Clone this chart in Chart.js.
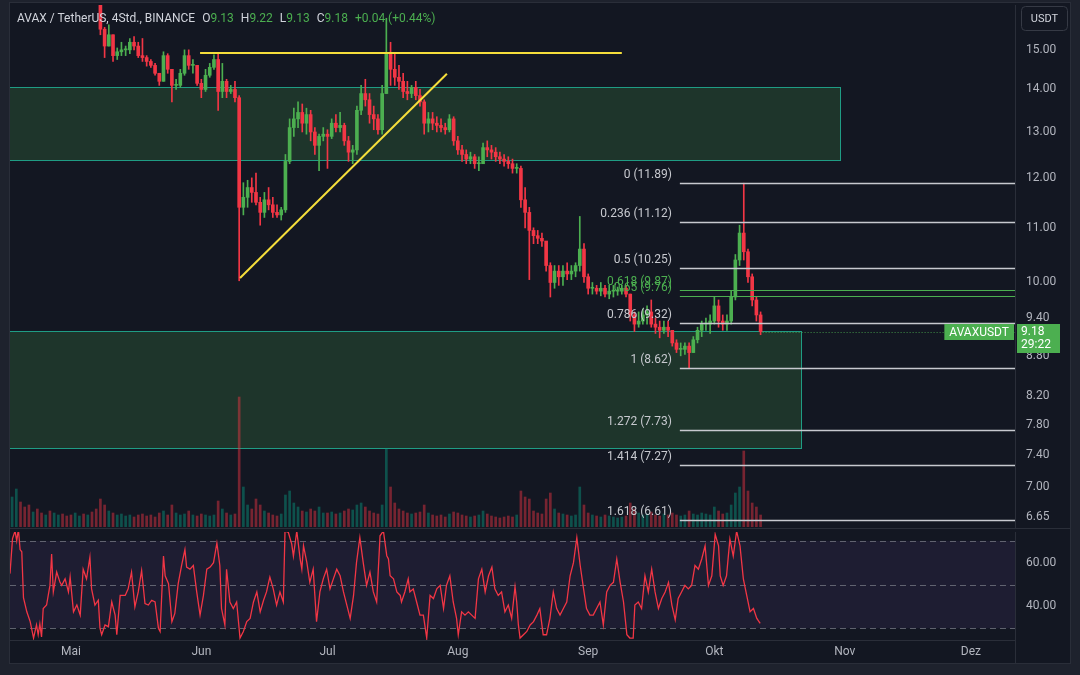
<!DOCTYPE html>
<html>
<head>
<meta charset="utf-8">
<script src="https://cdn.jsdelivr.net/npm/chart.js@4.4.0/dist/chart.umd.min.js"></script>
<style>
  html, body { margin: 0; padding: 0; width: 1080px; height: 675px; overflow: hidden; background: #1e222d; }
  body { font-family: Roboto, "Noto Sans", sans-serif; }
  #wrap { position: absolute; left: 10px; top: 3px; width: 1060px; height: 660px; background: #131722; box-shadow: 0 0 0 1px #2a2e39; }
  #priceBox { position: absolute; left: 0; top: 0; width: 1060px; height: 525px; }
  #rsiBox { position: absolute; left: 0; top: 525px; width: 1060px; height: 135px; }
  #sep { position: absolute; left: 0; top: 525px; width: 1060px; height: 1px; background: #2a2e39; z-index: 2; }
  #legend { position: absolute; left: 7px; top: 8px; font-size: 12px; line-height: 15px; color: #d1d4dc; z-index: 3; white-space: nowrap; }
  #legend .g { color: #4caf50; }
  #legend .sp { margin-left: 7px; }
</style>
</head>
<body>
<div id="wrap">
  <div id="priceBox"><canvas id="price"></canvas></div>
  <div id="rsiBox"><canvas id="rsi"></canvas></div>
  <div id="sep"></div>
  <div id="legend">AVAX / TetherUS, 4Std., BINANCE<span class="sp">O</span><span class="g">9.13</span><span class="sp">H</span><span class="g">9.22</span><span class="sp">L</span><span class="g">9.13</span><span class="sp">C</span><span class="g">9.18</span><span class="sp g">+0.04 (+0.44%)</span></div>
</div>
<script>
// daily candles from 2023-04-17 (day 0) to 2023-10-12 (day 178), axis runs to day 238
const monthDays = [14, 45, 75, 106, 137, 167, 198, 228];
const monthNames = ['Mai', 'Jun', 'Jul', 'Aug', 'Sep', 'Okt', 'Nov', 'Dez'];
const priceTicks = [15, 14, 13, 12, 11, 10, 9.4, 8.8, 8.2, 7.8, 7.4, 7.0, 6.65];
const rsiTicks = [60, 40];
const rsiLevels = [70, 50, 30];

const firstOpen = 19.0;
const closes = [
  19.2, 19.6, 18.3, 17.6, 17.0, 17.2, 16.9, 16.7, 16.9, 16.6,
  17.4, 17.6, 17.5, 17.3, 17.0, 17.2, 17.3, 16.9, 17.4, 16.9,
  16.5, 15.55, 15.1, 15.4, 14.85, 14.95, 15.0, 15.0, 15.2, 15.1,
  14.85, 14.8, 14.7, 14.6, 14.4, 14.2, 14.85, 14.5, 14.1, 14.1,
  14.4, 14.85, 14.6, 14.6, 14.15, 14.0, 14.35, 14.55, 14.75, 13.95,
  14.2, 13.95, 14.0, 13.8, 11.4, 11.6, 11.8, 11.7, 11.5, 11.3,
  11.55, 11.45, 11.3, 11.25, 11.35, 12.35, 13.1, 13.3, 13.45, 13.2,
  13.4, 13.0, 12.7, 12.9, 12.95, 12.9, 13.2, 13.1, 13.15, 12.8,
  12.55, 12.6, 13.5, 13.9, 13.75, 13.4, 13.3, 13.05, 13.9, 14.9,
  14.5, 14.3, 14.2, 13.95, 13.9, 14.05, 13.85, 13.7, 13.2, 13.3,
  13.2, 13.15, 13.1, 13.05, 13.3, 12.8, 12.6, 12.5, 12.4, 12.45,
  12.3, 12.3, 12.65, 12.6, 12.55, 12.45, 12.4, 12.35, 12.3, 12.2,
  12.2, 11.55, 11.3, 10.95, 10.85, 10.8, 10.75, 10.3, 10.0, 10.2,
  10.1, 10.2, 10.15, 10.2, 10.3, 10.6, 10.1, 9.9, 9.9, 9.85,
  9.9, 9.8, 9.85, 9.85, 9.85, 9.9, 9.8, 9.45, 9.3, 9.35,
  9.45, 9.5, 9.3, 9.25, 9.2, 9.25, 9.2, 9.0, 8.9, 8.9,
  8.95, 8.85, 9.05, 9.2, 9.3, 9.3, 9.35, 9.6, 9.35, 9.3,
  9.35, 9.75, 10.4, 10.9, 10.55, 10.1, 9.7, 9.45, 9.18
];
const highs = [
  19.6, 19.9, 19.7, 18.4, 17.8, 17.4, 17.3, 17.0, 17.0, 17.0,
  17.6, 17.8, 17.8, 17.6, 17.4, 17.4, 17.5, 17.4, 17.5, 17.4,
  17.0, 16.5, 15.6, 15.67, 15.4, 15.05, 15.2, 15.1, 15.3, 15.35,
  15.2, 15.3, 14.85, 14.75, 14.65, 14.4, 14.95, 14.9, 14.5, 14.25,
  14.5, 15.0, 15.0, 14.75, 14.6, 14.25, 14.5, 14.65, 14.87, 14.92,
  14.65, 14.25, 14.1, 14.2, 13.85, 11.9, 11.95, 12.0, 12.1, 11.6,
  11.7, 11.8, 11.6, 11.45, 11.4, 12.5, 13.3, 13.55, 13.7, 13.65,
  13.55, 13.5, 13.1, 12.95, 13.1, 13.05, 13.3, 13.4, 13.45, 13.2,
  12.9, 12.7, 13.6, 14.1, 14.25, 13.9, 13.6, 13.4, 14.1, 15.85,
  15.2, 14.9, 14.6, 14.4, 14.2, 14.1, 14.2, 14.0, 13.75, 13.45,
  13.45, 13.35, 13.3, 13.2, 13.4, 13.35, 12.9, 12.7, 12.6, 12.55,
  12.5, 12.45, 12.75, 12.8, 12.7, 12.65, 12.55, 12.5, 12.45, 12.4,
  12.3, 12.25, 11.8, 11.4, 11.0, 10.95, 10.9, 10.7, 10.35, 10.3,
  10.3, 10.3, 10.35, 10.3, 10.35, 11.22, 10.7, 10.15, 10.0, 9.95,
  10.0, 9.95, 9.95, 9.95, 9.92, 9.95, 9.95, 9.8, 9.5, 9.5,
  9.55, 9.6, 9.7, 9.4, 9.35, 9.35, 9.35, 9.2, 9.05, 9.0,
  9.0, 9.0, 9.1, 9.25, 9.35, 9.4, 9.45, 9.75, 9.7, 9.45,
  9.45, 9.85, 10.5, 11.05, 11.89, 10.6, 10.15, 9.75, 9.5
];
const lows = [
  18.9, 19.0, 18.1, 17.3, 16.7, 16.8, 16.7, 16.5, 16.6, 16.5,
  16.6, 17.3, 17.3, 17.1, 16.8, 16.9, 17.0, 16.8, 16.9, 16.7,
  16.4, 15.4, 14.8, 15.1, 14.7, 14.75, 14.85, 14.85, 14.9, 15.0,
  14.8, 14.7, 14.58, 14.55, 14.35, 14.1, 14.2, 14.4, 13.7, 14.0,
  14.05, 14.35, 14.5, 14.4, 14.1, 13.8, 13.95, 14.3, 14.5, 13.5,
  13.8, 13.8, 13.9, 13.7, 10.03, 11.25, 11.4, 11.5, 11.45, 11.05,
  11.2, 11.35, 11.2, 11.2, 11.15, 11.3, 12.3, 12.9, 13.1, 13.0,
  12.95, 12.8, 12.5, 12.15, 12.8, 12.2, 12.85, 13.0, 13.0, 12.7,
  12.35, 12.3, 12.5, 13.4, 13.6, 13.2, 13.05, 12.95, 12.95, 13.9,
  14.1, 14.1, 14.0, 13.8, 13.75, 13.8, 13.75, 13.6, 12.95, 13.0,
  13.05, 13.0, 13.0, 12.95, 13.0, 12.7, 12.5, 12.35, 12.3, 12.3,
  12.2, 12.15, 12.3, 12.45, 12.4, 12.35, 12.3, 12.25, 12.2, 12.1,
  12.1, 11.4, 11.0, 10.05, 10.7, 10.7, 10.65, 10.2, 9.75, 9.9,
  9.95, 9.95, 10.05, 10.05, 10.1, 10.2, 10.0, 9.8, 9.8, 9.8,
  9.77, 9.75, 9.72, 9.75, 9.78, 9.8, 9.75, 9.35, 9.18, 9.25,
  9.3, 9.3, 9.25, 9.15, 9.08, 9.15, 9.1, 8.95, 8.85, 8.8,
  8.82, 8.62, 8.85, 9.0, 9.1, 9.2, 9.15, 9.3, 9.25, 9.2,
  9.2, 9.3, 9.7, 10.3, 10.4, 10.0, 9.6, 9.35, 9.13
];
// daily volume, thousand AVAX
const volume = [
  4500, 5700, 3750, 3000, 3300, 2250, 2700, 2100, 1800, 2400,
  2100, 1800, 1950, 1650, 1800, 2100, 1650, 1950, 1800, 2250,
  2700, 4200, 3300, 2400, 2100, 1800, 1950, 1650, 1800, 1500,
  1800, 1950, 1650, 1800, 1500, 2100, 2400, 1800, 3300, 2100,
  1800, 1950, 2400, 1800, 1650, 1950, 1800, 1650, 1800, 3900,
  2700, 2100, 1800, 1950, 19500, 6000, 3300, 2700, 4200, 3300,
  2400, 2100, 1800, 1650, 1950, 4800, 5400, 3600, 3000, 2400,
  2250, 2700, 2400, 3000, 2100, 2100, 2250, 1950, 2100, 2400,
  2700, 2550, 3300, 3600, 3000, 2400, 2100, 1950, 3300, 11700,
  6000, 3600, 2700, 2400, 2100, 1950, 2100, 2250, 3300, 2100,
  1800, 1650, 1800, 1500, 1950, 2250, 2100, 1800, 1650, 1500,
  1650, 1800, 2400, 1950, 1650, 1500, 1350, 1500, 1650, 1500,
  1800, 5400, 4500, 4200, 2400, 2100, 1950, 4200, 5100, 2700,
  2100, 1950, 1800, 1650, 1800, 6000, 3300, 2100, 1800, 1650,
  1500, 1800, 1650, 1500, 1350, 1500, 1650, 3600, 2700, 2100,
  1800, 1950, 2250, 1800, 1650, 1950, 1800, 2100, 1800, 1650,
  1800, 2400, 1950, 1800, 2100, 1950, 1800, 3000, 2400, 1950,
  2100, 3300, 5100, 6000, 11400, 5400, 3600, 3000, 1800
];
// RSI(14) on 4h bars, read as [day, value]
const rsiPoints = [
  [-0.5,55],[0.1,71],[0.7,74.5],[1.1,70],[1.5,75.3],[1.9,66],[2.3,65],[2.7,44],[3.5,37.5],[4.3,33],
  [5.1,25.5],[5.8,31.5],[6.2,27],[6.6,32],[7.0,26],[7.4,39],[8.2,40.6],[9.0,49.6],[9.4,64],[9.8,46.6],
  [10.6,55.7],[11.4,51],[11.8,49.6],[12.6,52.6],[13.4,46.6],[13.8,53.4],[14.6,37.5],[15.4,40.6],[16.2,36],[16.9,57],
  [17.7,52.6],[18.5,62.5],[18.9,48],[19.7,40.6],[20.5,42.8],[20.9,30],[21.3,27],[22.1,31.5],[22.9,30.7],[23.7,42],
  [24.5,36],[24.9,27],[25.7,45],[26.9,45],[27.6,48],[28.4,55.7],[29.2,39.8],[30.0,46.6],[30.8,56.4],[31.6,41.3],
  [32.4,40.6],[33.2,42.8],[34.0,42],[34.8,30],[35.2,28.5],[36.0,63],[36.4,54],[37.2,50.4],[38.0,33],[38.7,36.8],
  [39.5,50.4],[40.3,58.7],[41.1,66],[41.5,58],[42.3,57],[43.1,58.7],[43.9,46.6],[44.7,36],[45.5,45],[46.3,57],
  [47.1,58],[47.9,60],[48.7,69],[49.4,58.7],[49.8,39],[50.6,31.5],[51.0,57],[51.8,42],[52.6,39],[53.4,42],
  [54.2,25.5],[55.0,28.5],[55.8,33],[56.6,34.5],[57.4,42],[58.2,46.6],[59.0,37.5],[59.8,42.8],[60.5,46.6],[61.3,53.4],
  [62.1,48],[62.9,40.6],[63.7,46.6],[64.5,42],[64.9,74.5],[65.7,73.8],[66.5,68.5],[66.9,63],[67.7,74.5],[68.5,61.7],
  [68.9,57],[69.3,67.7],[70.1,60],[70.8,51],[71.6,57],[72.4,33],[73.2,46.6],[74.0,52.6],[74.8,57],[75.6,48],
  [76.4,52.6],[77.2,57],[78.0,54],[78.8,46.6],[79.6,40.6],[80.4,34.5],[81.2,45],[81.9,60],[82.7,71.5],[83.5,60],
  [84.3,49.6],[85.1,55.7],[85.9,46.6],[86.7,42],[87.5,72.3],[88.3,74.5],[89.1,63.2],[89.5,61.7],[89.9,54],[90.7,52.6],
  [91.5,46.6],[92.3,45],[92.6,42],[93.4,46.6],[94.2,52.6],[94.6,46.6],[95.4,48],[96.2,42],[97.0,36],[97.8,36],
  [98.6,25.5],[99.4,45],[100.2,43.6],[101.0,48],[101.8,49.6],[102.6,39],[103.3,49.6],[104.1,54],[104.9,42],[105.7,34.5],
  [106.1,27],[106.9,37.5],[107.7,36],[108.5,37.5],[109.3,36],[110.1,34.5],[110.9,52.6],[111.7,57],[112.5,46.6],[113.3,54],
  [114.1,58],[114.8,48],[115.6,45],[116.4,46.6],[117.2,37.5],[118.0,40.6],[118.8,34.5],[119.6,49],[120.0,42],[120.4,31.5],
  [120.8,25.5],[121.6,27],[122.4,28.5],[123.2,31.5],[124.0,33],[124.8,36],[125.5,39],[126.3,27],[127.1,27],[127.9,34.5],
  [128.7,46.6],[129.5,39],[130.3,36],[131.1,39],[131.9,42],[132.7,54],[133.5,60],[134.3,71.5],[135.1,58.7],[135.9,48],
  [136.6,39],[137.4,36],[138.2,36],[139.0,39],[139.8,42],[140.6,31.5],[141.4,46.6],[142.2,49.6],[143.0,51],[143.8,61.7],
  [144.6,51],[145.4,42],[146.2,27],[146.9,25.5],[147.7,25.5],[148.1,40.6],[148.9,42],[149.7,39],[150.5,54],[151.3,46.6],
  [152.1,57],[152.9,46.6],[153.7,39],[154.5,43.6],[155.3,46.6],[156.1,51],[156.9,40.6],[157.7,33.8],[158.4,43.6],[159.2,46.6],
  [160.0,49.6],[160.8,48],[161.6,49.6],[162.4,58.7],[163.2,57],[164.0,61.7],[164.8,67.7],[165.6,49.6],[166.4,54],[167.2,73],
  [168.0,67.7],[168.4,54],[169.1,49.6],[169.9,54],[170.7,70.8],[171.5,63],[172.3,74.5],[173.1,67.7],[173.9,52.6],[174.7,45],
  [175.5,37.5],[176.3,39],[177.1,34.5],[177.9,32.2]
];

// drawings: zones [fromDay, toDay, high, low], trend lines [day1, price1, day2, price2]
const zones = [[-2, 196.9, 14.06, 12.39], [-2, 187.6, 9.19, 7.5]];
const trendLines = [[44.7, 14.92, 145.0, 14.92], [54.2, 10.08, 103.4, 14.39]];
const fibRatios = [0, 0.236, 0.5, 0.618, 0.65, 0.786, 1, 1.272, 1.414, 1.618];
const fibPrices = [11.89, 11.12, 10.25, 9.87, 9.76, 9.32, 8.62, 7.73, 7.27, 6.61];
const fibStartDay = 158.8;
const lastPrice = 9.18;
const countdown = '29:22';

const UP = '#4caf50', DOWN = '#f23645';
const FONT = 'Roboto, "Noto Sans", sans-serif';
Chart.defaults.font.family = FONT;

const opens = closes.map((c, i) => (i === 0 ? firstOpen : closes[i - 1]));
const isUp = closes.map((c, i) => c >= opens[i]);
const candleColors = isUp.map(u => (u ? UP : DOWN));
const volColors = isUp.map(u => (u ? 'rgba(8,153,129,0.45)' : 'rgba(242,54,69,0.45)'));

function clipArea(ctx, a) {
  ctx.beginPath();
  ctx.rect(a.left, a.top, a.right - a.left, a.bottom - a.top);
  ctx.clip();
}

const priceOverlay = {
  id: 'priceOverlay',
  beforeDatasetsDraw(chart) {
    const { ctx, chartArea: a, scales: { x, y } } = chart;
    ctx.save();
    clipArea(ctx, a);
    zones.forEach(z => {
      const x0 = Math.round(x.getPixelForValue(z[0])), x1 = Math.round(x.getPixelForValue(z[1]));
      const y0 = Math.round(y.getPixelForValue(z[2])), y1 = Math.round(y.getPixelForValue(z[3]));
      ctx.fillStyle = 'rgba(76,175,80,0.2)';
      ctx.fillRect(x0, y0, x1 - x0, y1 - y0);
      ctx.strokeStyle = '#1f9c84';
      ctx.lineWidth = 1;
      ctx.strokeRect(x0 + 0.5, y0 + 0.5, x1 - x0, y1 - y0);
    });
    ctx.restore();
  },
  afterDatasetsDraw(chart) {
    const { ctx, chartArea: a, scales: { x, y } } = chart;
    ctx.save();
    clipArea(ctx, a);

    ctx.strokeStyle = '#f5de3b';
    ctx.lineWidth = 2;
    trendLines.forEach(t => {
      ctx.beginPath();
      ctx.moveTo(x.getPixelForValue(t[0]), y.getPixelForValue(t[1]));
      ctx.lineTo(x.getPixelForValue(t[2]), y.getPixelForValue(t[3]));
      ctx.stroke();
    });

    const fx = x.getPixelForValue(fibStartDay);
    ctx.font = '12px ' + FONT;
    ctx.textAlign = 'right';
    ctx.textBaseline = 'middle';
    fibRatios.forEach((r, i) => {
      const yy = Math.round(y.getPixelForValue(fibPrices[i])) + 0.5;
      const green = r === 0.618 || r === 0.65;
      ctx.strokeStyle = green ? '#4caf50' : '#c7c9cf';
      ctx.lineWidth = green ? 1 : 1.5;
      ctx.beginPath();
      ctx.moveTo(fx, yy);
      ctx.lineTo(a.right, yy);
      ctx.stroke();
      ctx.fillStyle = green ? '#4caf50' : '#c7c9cf';
      ctx.fillText(r + ' (' + fibPrices[i].toFixed(2) + ')', fx - 8, yy - 9);
    });

    // last price line + symbol label
    const py = Math.round(y.getPixelForValue(lastPrice)) + 0.5;
    ctx.strokeStyle = 'rgba(76,175,80,0.8)';
    ctx.lineWidth = 1;
    ctx.setLineDash([1, 2]);
    ctx.beginPath();
    ctx.moveTo(x.getPixelForValue(closes.length - 1) + 2, py);
    ctx.lineTo(a.right, py);
    ctx.stroke();
    ctx.setLineDash([]);
    ctx.font = '12px ' + FONT;
    const w = ctx.measureText('AVAXUSDT').width + 10;
    ctx.fillStyle = '#4caf50';
    ctx.fillRect(a.right - w - 1, py - 8.5, w, 16);
    ctx.fillStyle = '#ffffff';
    ctx.textAlign = 'center';
    ctx.fillText('AVAXUSDT', a.right - 1 - w / 2, py);
    ctx.restore();
  },
  afterDraw(chart) {
    const { ctx, chartArea: a, scales: { y } } = chart;
    ctx.save();
    const py = Math.round(y.getPixelForValue(lastPrice));
    ctx.fillStyle = '#4caf50';
    ctx.fillRect(a.right + 2, py - 8, 43, 29);
    ctx.fillStyle = '#ffffff';
    ctx.font = '12px ' + FONT;
    ctx.textAlign = 'left';
    ctx.textBaseline = 'middle';
    ctx.fillText(lastPrice.toFixed(2), a.right + 6, py);
    ctx.fillText(countdown, a.right + 6, py + 13);

    ctx.strokeStyle = '#363a45';
    ctx.lineWidth = 1;
    ctx.beginPath();
    ctx.roundRect(a.right + 6.5, 3.5, 46, 24, 4);
    ctx.stroke();
    ctx.fillStyle = '#d1d4dc';
    ctx.font = '11px ' + FONT;
    ctx.textAlign = 'center';
    ctx.fillText('USDT', a.right + 29.5, 16);
    ctx.restore();
  }
};

const rsiOverlay = {
  id: 'rsiOverlay',
  beforeDatasetsDraw(chart) {
    const { ctx, chartArea: a, scales: { y } } = chart;
    const top = y.getPixelForValue(rsiLevels[0]);
    const bot = y.getPixelForValue(rsiLevels[2]);
    ctx.save();
    ctx.fillStyle = 'rgba(126,87,194,0.1)';
    ctx.fillRect(a.left, top, a.right - a.left, bot - top);
    ctx.setLineDash([6, 4]);
    ctx.strokeStyle = 'rgba(120,123,134,0.75)';
    ctx.lineWidth = 1;
    rsiLevels.forEach(l => {
      const yy = Math.round(y.getPixelForValue(l)) + 0.5;
      ctx.beginPath();
      ctx.moveTo(a.left, yy);
      ctx.lineTo(a.right, yy);
      ctx.stroke();
    });
    ctx.restore();
  },
  afterDraw(chart) {
    const { ctx, chartArea: a } = chart;
    ctx.save();
    ctx.strokeStyle = '#2a2e39';
    ctx.beginPath();
    ctx.moveTo(Math.round(a.right) + 0.5, a.bottom);
    ctx.lineTo(Math.round(a.right) + 0.5, chart.height);
    ctx.stroke();
    ctx.restore();
  }
};

// keep the axes from pushing the plot area in for their edge labels
const fitRight = s => { s.width = 55; s.paddingTop = 0; s.paddingBottom = 0; };
const fitBottom = s => { s.height = 23; s.paddingLeft = 0; s.paddingRight = 0; };

const xAxisBase = { type: 'linear', min: -0.5, max: 238.5, offset: false };
const axisTicks = { color: '#b2b5be', font: { size: 12 }, autoSkip: false, maxRotation: 0 };

new Chart(document.getElementById('price'), {
  type: 'bar',
  data: {
    datasets: [
      { label: 'Volume', data: volume.map((v, i) => ({ x: i, y: v })), yAxisID: 'vol',
        backgroundColor: volColors, barThickness: 2, grouped: false, order: 3 },
      { label: 'Wick', data: highs.map((h, i) => ({ x: i, y: [lows[i], h] })), yAxisID: 'y',
        backgroundColor: candleColors, barThickness: 1, grouped: false, order: 2 },
      { label: 'Body', data: closes.map((c, i) => ({ x: i, y: [opens[i], c] })), yAxisID: 'y',
        backgroundColor: candleColors, barThickness: 3, minBarLength: 1, grouped: false, order: 1 }
    ]
  },
  options: {
    responsive: true,
    maintainAspectRatio: false,
    animation: false,
    events: [],
    layout: { padding: { top: 2, bottom: 1, left: 0, right: 0 } },
    plugins: { legend: { display: false }, tooltip: { enabled: false } },
    scales: {
      x: { ...xAxisBase, display: false },
      y: {
        type: 'logarithmic', position: 'right', min: 6.53, max: 16.22,
        afterBuildTicks: s => { s.ticks = priceTicks.map(v => ({ value: v })); },
        afterFit: fitRight,
        ticks: { ...axisTicks, padding: 11, callback: v => Number(v).toFixed(2) },
        grid: { display: false, drawTicks: false },
        border: { display: true, color: '#2a2e39' }
      },
      vol: { type: 'linear', display: false, min: 0, max: 78300 }
    }
  },
  plugins: [priceOverlay]
});

new Chart(document.getElementById('rsi'), {
  type: 'line',
  data: {
    datasets: [{
      label: 'RSI', data: rsiPoints.map(p => ({ x: p[0], y: p[1] })),
      borderColor: '#f23645', borderWidth: 1.3, pointRadius: 0, tension: 0
    }]
  },
  options: {
    responsive: true,
    maintainAspectRatio: false,
    animation: false,
    events: [],
    layout: { padding: { top: 4, bottom: 0, left: 0, right: 0 } },
    plugins: { legend: { display: false }, tooltip: { enabled: false } },
    scales: {
      x: {
        ...xAxisBase,
        afterBuildTicks: s => { s.ticks = monthDays.map(v => ({ value: v })); },
        afterFit: fitBottom,
        ticks: { ...axisTicks, padding: 5, callback: (v, i) => monthNames[i] },
        grid: { display: false, drawTicks: false },
        border: { display: true, color: '#2a2e39' }
      },
      y: {
        position: 'right', min: 24.6, max: 74.04,
        afterBuildTicks: s => { s.ticks = rsiTicks.map(v => ({ value: v })); },
        afterFit: fitRight,
        ticks: { ...axisTicks, padding: 11, callback: v => Number(v).toFixed(2) },
        grid: { display: false, drawTicks: false },
        border: { display: true, color: '#2a2e39' }
      }
    }
  },
  plugins: [rsiOverlay]
});
</script>
</body>
</html>
